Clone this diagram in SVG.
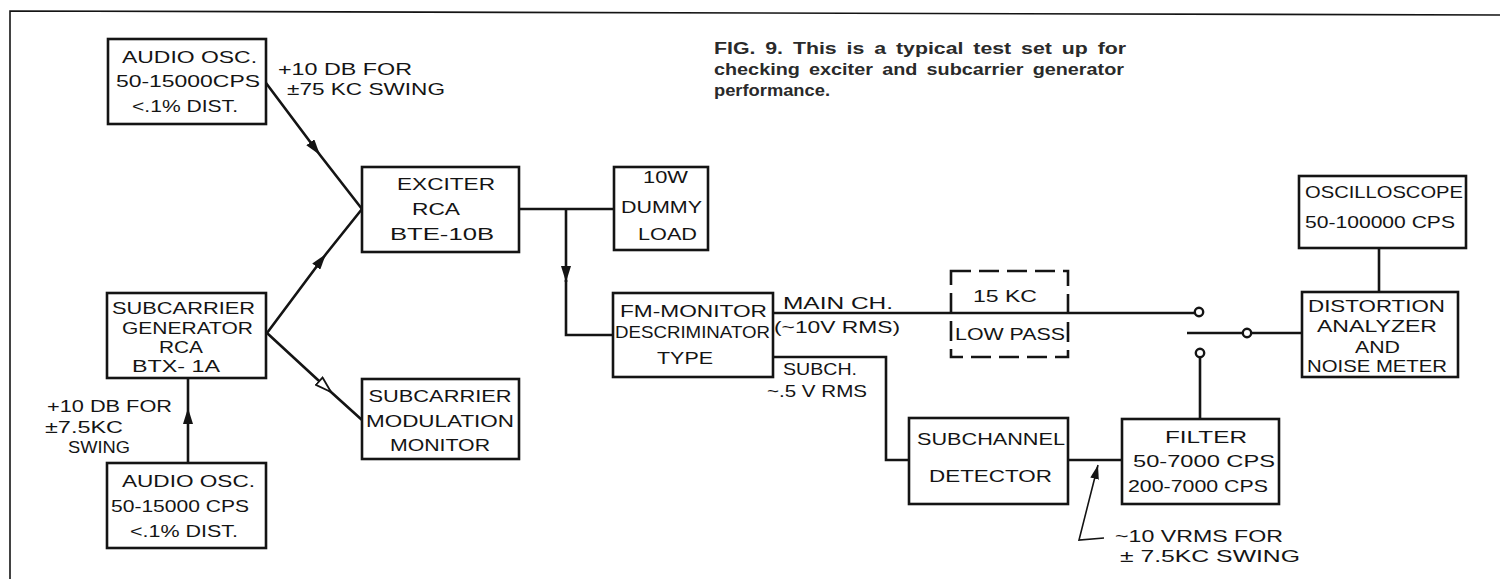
<svg xmlns="http://www.w3.org/2000/svg" width="1500" height="579" viewBox="0 0 1500 579">
<style>
.box{fill:#fff;stroke:#141414;stroke-width:2.6}
.dash{fill:none;stroke:#141414;stroke-width:2.6;stroke-dasharray:20 8}
.ln{fill:none;stroke:#141414;stroke-width:2.6}
.thin{fill:none;stroke:#141414;stroke-width:1.6}
.t{font-family:"Liberation Sans",Arial,sans-serif;font-size:17px;fill:#141414}
.c{font-family:"Liberation Sans",Arial,sans-serif;font-size:16px;font-weight:bold;fill:#2a2a2a;word-spacing:3px}
.m{text-anchor:middle}
</style>
<defs>
<marker id="ah" viewBox="0 0 16 10" refX="16" refY="5" markerWidth="16" markerHeight="10" markerUnits="userSpaceOnUse" orient="auto"><path d="M0,0 L16,5 L0,10 z" fill="#141414"/></marker>
<marker id="ahs" viewBox="0 0 16 10" refX="16" refY="5" markerWidth="14" markerHeight="9" markerUnits="userSpaceOnUse" orient="auto"><path d="M0,0 L16,5 L0,10 z" fill="#141414"/></marker>
<marker id="aho" viewBox="-1 -1 18 12" refX="16" refY="5" markerWidth="18" markerHeight="12" markerUnits="userSpaceOnUse" orient="auto"><path d="M0,0 L16,5 L0,10 z" fill="#fff" stroke="#141414" stroke-width="1.8"/></marker>
</defs>
<rect width="1500" height="579" fill="#fff"/>
<g id="frame"><path class="thin" d="M10,579 L10,11 L1500,15" stroke-width="2"/></g>

<g id="caption">
<text class="c" x="714" y="54" textLength="412" lengthAdjust="spacingAndGlyphs">FIG. 9.  This is a typical test set up for</text>
<text class="c" x="714" y="75" textLength="410" lengthAdjust="spacingAndGlyphs">checking exciter and subcarrier generator</text>
<text class="c" x="714" y="96" textLength="116" lengthAdjust="spacingAndGlyphs">performance.</text>
</g>

<g id="connectors">
<path class="ln" d="M266,83 L320,155 L362,209" marker-mid="url(#ah)"/>
<path class="ln" d="M267,333 L326,254 L362,209" marker-mid="url(#ah)"/>
<path class="ln" d="M267,333 L331,392 L362,420" marker-mid="url(#aho)"/>
<path class="ln" d="M188,463 L188,408 L188,378" marker-mid="url(#ah)"/>
<path class="ln" d="M519,209 L614,209"/>
<path class="ln" d="M566,209 L566,282" marker-end="url(#ah)"/>
<path class="ln" d="M566,280 L566,335 L613,335"/>
<path class="ln" d="M773,313 L1195,313"/>
<path class="ln" d="M773,357 L886,357 L886,460 L909,460"/>
<path class="ln" d="M1068,460 L1122,460"/>
<path class="ln" d="M1200,357 L1200,419"/>
<path class="ln" d="M1187,333 L1243,333 M1251,333 L1302,333"/>
<circle cx="1199" cy="312" r="4.2" fill="#fff" stroke="#141414" stroke-width="2.4"/>
<circle cx="1200" cy="353" r="4.2" fill="#fff" stroke="#141414" stroke-width="2.4"/>
<circle cx="1247" cy="333" r="4.2" fill="#fff" stroke="#141414" stroke-width="2.4"/>
<path class="ln" d="M1379,248 L1379,292"/>
<path class="thin" d="M1104,538 L1079,540 L1098,465" marker-end="url(#ahs)"/>
</g>

<g id="audio-osc-top">
<rect class="box" x="108" y="39" width="158" height="85"/>
<text class="t" x="122" y="63" textLength="135" lengthAdjust="spacingAndGlyphs">AUDIO OSC.</text>
<text class="t" x="116" y="87" textLength="144" lengthAdjust="spacingAndGlyphs">50-15000CPS</text>
<text class="t" x="132" y="112" textLength="106" lengthAdjust="spacingAndGlyphs">&lt;.1% DIST.</text>
</g>
<g id="label-top">
<text class="t" x="278" y="75" textLength="134" lengthAdjust="spacingAndGlyphs">+10 DB FOR</text>
<text class="t" x="287" y="95" textLength="158" lengthAdjust="spacingAndGlyphs">±75 KC SWING</text>
</g>

<g id="exciter">
<rect class="box" x="362" y="167" width="157" height="85"/>
<text class="t" x="397" y="190" textLength="98" lengthAdjust="spacingAndGlyphs">EXCITER</text>
<text class="t" x="412" y="215" textLength="48" lengthAdjust="spacingAndGlyphs">RCA</text>
<text class="t" x="390" y="240" textLength="104" lengthAdjust="spacingAndGlyphs">BTE-10B</text>
</g>

<g id="dummy-load">
<rect class="box" x="614" y="167" width="94" height="83"/>
<text class="t" x="643" y="183" textLength="45" lengthAdjust="spacingAndGlyphs">10W</text>
<text class="t" x="621" y="213" textLength="81" lengthAdjust="spacingAndGlyphs">DUMMY</text>
<text class="t" x="638" y="240" textLength="59" lengthAdjust="spacingAndGlyphs">LOAD</text>
</g>

<g id="subcarrier-generator">
<rect class="box" x="107" y="293" width="159" height="85"/>
<text class="t" x="112" y="314" textLength="143" lengthAdjust="spacingAndGlyphs">SUBCARRIER</text>
<text class="t" x="122" y="334" textLength="131" lengthAdjust="spacingAndGlyphs">GENERATOR</text>
<text class="t" x="159" y="353" textLength="44" lengthAdjust="spacingAndGlyphs">RCA</text>
<text class="t" x="132" y="372" textLength="88" lengthAdjust="spacingAndGlyphs">BTX- 1A</text>
</g>

<g id="label-left">
<text class="t" x="47" y="412" textLength="125" lengthAdjust="spacingAndGlyphs">+10 DB FOR</text>
<text class="t" x="45" y="433" textLength="78" lengthAdjust="spacingAndGlyphs">±7.5KC</text>
<text class="t" x="68" y="453" textLength="62" lengthAdjust="spacingAndGlyphs">SWING</text>
</g>

<g id="audio-osc-bottom">
<rect class="box" x="107" y="463" width="159" height="85"/>
<text class="t" x="122" y="487" textLength="133" lengthAdjust="spacingAndGlyphs">AUDIO OSC.</text>
<text class="t" x="111" y="512" textLength="138" lengthAdjust="spacingAndGlyphs">50-15000 CPS</text>
<text class="t" x="130" y="537" textLength="108" lengthAdjust="spacingAndGlyphs">&lt;.1% DIST.</text>
</g>

<g id="subcarrier-modulation-monitor">
<rect class="box" x="362" y="379" width="157" height="80"/>
<text class="t m" x="440" y="402" textLength="143" lengthAdjust="spacingAndGlyphs">SUBCARRIER</text>
<text class="t m" x="440" y="427" textLength="148" lengthAdjust="spacingAndGlyphs">MODULATION</text>
<text class="t m" x="440" y="451" textLength="100" lengthAdjust="spacingAndGlyphs">MONITOR</text>
</g>

<g id="fm-monitor">
<rect class="box" x="613" y="293" width="160" height="84"/>
<text class="t" x="620" y="317" textLength="147" lengthAdjust="spacingAndGlyphs">FM-MONITOR</text>
<text class="t" x="615" y="338" textLength="155" lengthAdjust="spacingAndGlyphs">DESCRIMINATOR</text>
<text class="t" x="657" y="364" textLength="56" lengthAdjust="spacingAndGlyphs">TYPE</text>
</g>
<g id="labels-fm">
<text class="t" x="783" y="309" textLength="110" lengthAdjust="spacingAndGlyphs">MAIN CH.</text>
<text class="t" x="774" y="333" textLength="126" lengthAdjust="spacingAndGlyphs">(~10V RMS)</text>
<text class="t" x="783" y="375" textLength="74" lengthAdjust="spacingAndGlyphs">SUBCH.</text>
<text class="t" x="767" y="397" textLength="100" lengthAdjust="spacingAndGlyphs">~.5 V RMS</text>
</g>

<g id="low-pass">
<rect class="dash" x="951" y="271" width="117" height="86"/>
<text class="t" x="973" y="302" textLength="64" lengthAdjust="spacingAndGlyphs">15 KC</text>
<text class="t" x="955" y="340" textLength="110" lengthAdjust="spacingAndGlyphs">LOW PASS</text>
</g>

<g id="subchannel-detector">
<rect class="box" x="909" y="418" width="159" height="86"/>
<text class="t" x="917" y="445" textLength="148" lengthAdjust="spacingAndGlyphs">SUBCHANNEL</text>
<text class="t" x="929" y="482" textLength="123" lengthAdjust="spacingAndGlyphs">DETECTOR</text>
</g>

<g id="filter">
<rect class="box" x="1122" y="419" width="157" height="85"/>
<text class="t" x="1165" y="443" textLength="82" lengthAdjust="spacingAndGlyphs">FILTER</text>
<text class="t" x="1133" y="467" textLength="142" lengthAdjust="spacingAndGlyphs">50-7000 CPS</text>
<text class="t" x="1128" y="492" textLength="140" lengthAdjust="spacingAndGlyphs">200-7000 CPS</text>
</g>
<g id="label-filter">
<text class="t" x="1115" y="542" textLength="168" lengthAdjust="spacingAndGlyphs">~10 VRMS FOR</text>
<text class="t" x="1120" y="562" textLength="180" lengthAdjust="spacingAndGlyphs">± 7.5KC SWING</text>
</g>

<g id="oscilloscope">
<rect class="box" x="1299" y="176" width="167" height="72"/>
<text class="t" x="1305" y="198" textLength="158" lengthAdjust="spacingAndGlyphs">OSCILLOSCOPE</text>
<text class="t" x="1305" y="228" textLength="150" lengthAdjust="spacingAndGlyphs">50-100000 CPS</text>
</g>

<g id="distortion-analyzer">
<rect class="box" x="1302" y="292" width="156" height="85"/>
<text class="t" x="1308" y="312" textLength="137" lengthAdjust="spacingAndGlyphs">DISTORTION</text>
<text class="t" x="1317" y="332" textLength="120" lengthAdjust="spacingAndGlyphs">ANALYZER</text>
<text class="t" x="1355" y="353" textLength="45" lengthAdjust="spacingAndGlyphs">AND</text>
<text class="t" x="1307" y="372" textLength="140" lengthAdjust="spacingAndGlyphs">NOISE METER</text>
</g>
</svg>
